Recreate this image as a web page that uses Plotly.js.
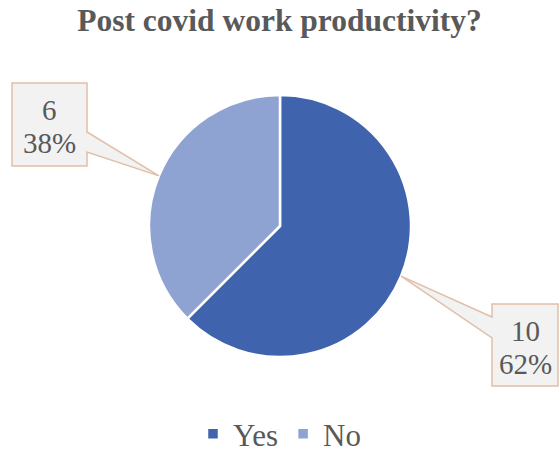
<!DOCTYPE html>
<html>
<head>
<meta charset="utf-8">
<script src="https://cdn.plot.ly/plotly-3.0.1.min.js"></script>
<style>html,body{margin:0;padding:0;background:#fff;}#chart{width:559px;height:452px;}</style>
</head>
<body>
<div id="chart"></div>
<script>
// ---- data ----
const categories = ["Yes", "No"];
const counts = [10, 6];
const sliceColors = ["#3F63AD", "#8FA3D3"];
const chartTitle = "Post covid work productivity?";

// ---- layout constants (pixels) ----
const W = 559, H = 452;
const cx = 280, cy = 226, R = 131;
const boxes = [
  {x0: 492, x1: 558, y0: 304, y1: 386, side: "left", a: 317, b: 338},   // Yes
  {x0: 12, x1: 87, y0: 83, y1: 166, side: "right", a: 132, b: 152}      // No
];
const FONT = "Liberation Serif, Times New Roman, serif";

const px = x => x / W;
const py = y => 1 - y / H;

// percentages that sum to 100
const total = counts.reduce((s, v) => s + v, 0);
let maxI = counts.indexOf(Math.max(...counts));
const pcts = counts.map(v => Math.round(v / total * 100));
pcts[maxI] = 100 - pcts.reduce((s, p, i) => i === maxI ? s : s + p, 0);

// tip points at mid-angle of each slice (clockwise from 12 o'clock)
let acc = 0;
const shapes = [], annotations = [];
counts.forEach((v, i) => {
  const start = acc / total * 360;
  acc += v;
  const end = acc / total * 360;
  const mid = (start + end) / 2 * Math.PI / 180;
  const tx = cx + R * Math.sin(mid);
  const ty = cy - R * Math.cos(mid);
  const b = boxes[i];
  let pts;
  if (b.side === "right") {
    pts = [[b.x0, b.y0], [b.x1, b.y0], [b.x1, b.a], [tx, ty], [b.x1, b.b], [b.x1, b.y1], [b.x0, b.y1]];
  } else {
    pts = [[b.x0, b.y0], [b.x1, b.y0], [b.x1, b.y1], [b.x0, b.y1], [b.x0, b.b], [tx, ty], [b.x0, b.a]];
  }
  const path = "M " + pts.map(p => px(p[0]).toFixed(5) + "," + py(p[1]).toFixed(5)).join(" L ") + " Z";
  shapes.push({type: "path", xref: "paper", yref: "paper", path: path,
    fillcolor: "#F2F2F2", line: {color: "#E2BFA9", width: 1.5}, layer: "above"});
  const xc = px((b.x0 + b.x1) / 2);
  [[String(counts[i]), b.y0 + 27], [pcts[i] + "%", b.y0 + 60]].forEach(([t, yy]) => {
    annotations.push({xref: "paper", yref: "paper", x: xc, y: py(yy),
      xanchor: "center", yanchor: "middle", showarrow: false, text: t,
      font: {family: FONT, size: 29, color: "#595959"}});
  });
});

const trace = {
  type: "pie",
  labels: categories,
  values: counts,
  sort: false,
  direction: "clockwise",
  rotation: 0,
  textinfo: "none",
  marker: {colors: sliceColors, line: {color: "#FFFFFF", width: 2.5}},
  domain: {x: [px(cx - R), px(cx + R)], y: [py(cy + R), py(cy - R)]}
};

const layout = {
  width: W, height: H,
  margin: {l: 0, r: 0, t: 0, b: 0, autoexpand: false},
  paper_bgcolor: "#FFFFFF",
  title: {text: "<b>" + chartTitle + "</b>", x: 0.5, xanchor: "center", y: 1 - 20 / H, yanchor: "middle",
    font: {family: FONT, size: 31.5, color: "#595959"}},
  showlegend: true,
  legend: {orientation: "h", x: 0.5, xanchor: "center", y: py(434), yanchor: "middle",
    font: {family: FONT, size: 31, color: "#595959"},
    traceorder: "normal"},
  shapes: shapes,
  annotations: annotations
};

Plotly.newPlot("chart", [trace], layout, {displayModeBar: false, staticPlot: true});
</script>
</body>
</html>
